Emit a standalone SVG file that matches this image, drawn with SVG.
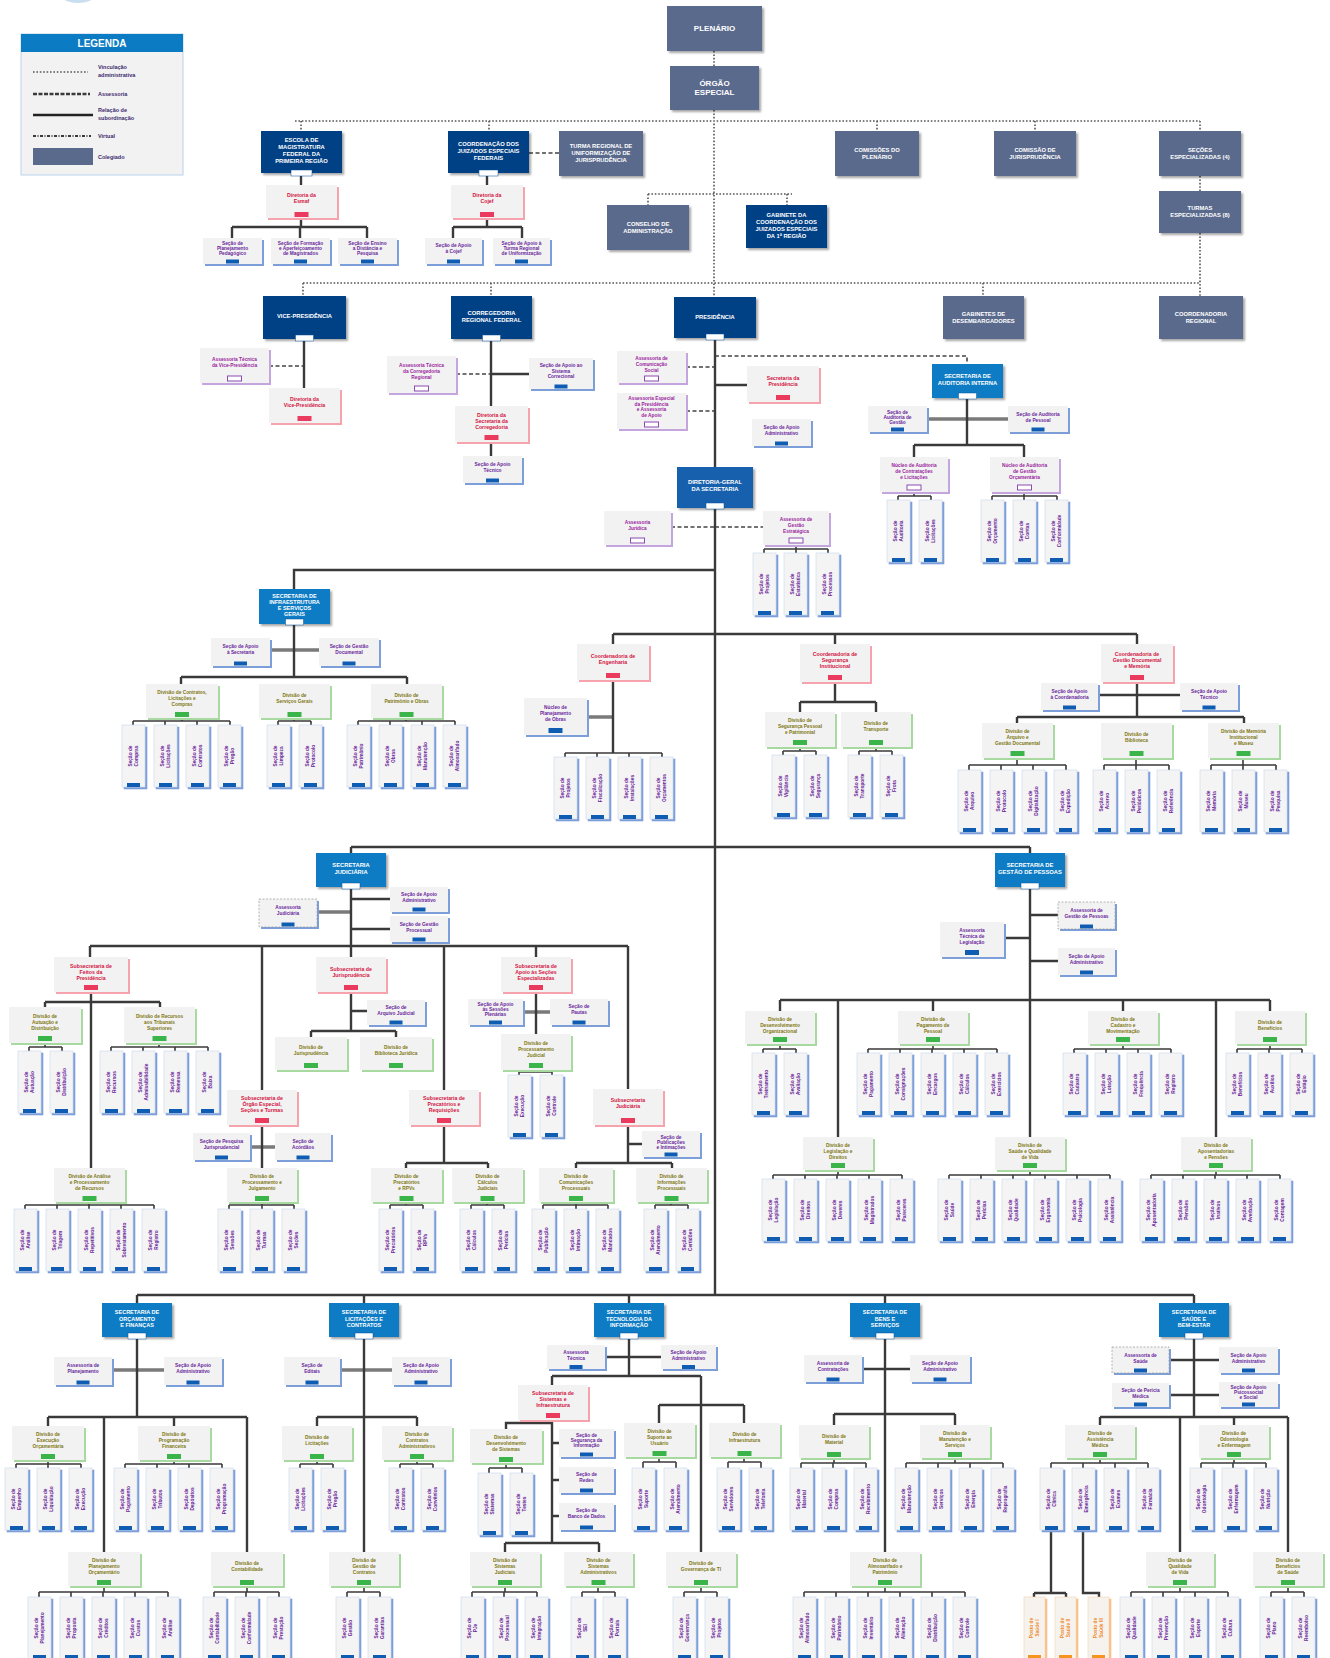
<svg xmlns="http://www.w3.org/2000/svg" xmlns:xlink="http://www.w3.org/1999/xlink" width="1330" height="1658" viewBox="0 0 1330 1658">
<defs>
<style>
text{font-family:"Liberation Sans",Arial,sans-serif;text-anchor:middle;font-weight:bold}
.tw{fill:#fff;font-size:5.8px}
.tL{fill:#fff;font-size:8px}
.tR{fill:#d3123f;font-size:5.2px}
.tP{fill:#9a1d9e;font-size:4.8px}
.tB{fill:#6a269c;font-size:4.8px}
.tG{fill:#807712;font-size:4.8px}
.tv{fill:#6a1f9a;font-size:4.8px}
.tO{fill:#ef8a2b;font-size:4.8px}
.lg{fill:#3d2a6e;font-size:5.5px;text-anchor:start}
.sl{fill:#5a6a8d;filter:url(#sh)}
.nv{fill:#043f85;filter:url(#sh)}
.lb{fill:#0b7cc4;filter:url(#sh)}
.md{fill:#1561ae;filter:url(#sh)}
.cR{fill:#f2f2f2;filter:url(#fR)}
.cP{fill:#f2f2f2;filter:url(#fP)}
.cB{fill:#f2f2f2;filter:url(#fB)}
.cG{fill:#f2f2f2;filter:url(#fG)}
.vc{fill:#f4f4f4;stroke:#c8d6ee;stroke-width:.6;filter:url(#fB)}
.vo{fill:#f6f2ee;stroke:#f6d2b0;stroke-width:.6;filter:url(#fO)}
.gR{fill:#ea3b5f}.gP{fill:#fff;stroke:#8b4bb5;stroke-width:1}.gB{fill:#0e5db3}.gG{fill:#3bb54a}.gO{fill:#f7941d}
.wt{fill:#fff;stroke:#0a4f9a;stroke-width:.5}
.dsh{fill:none;stroke:#9a9a9a;stroke-width:.7;stroke-dasharray:2 1.5}
.ln{fill:none;stroke:#3a3a3a;stroke-width:2.4}
.lt{fill:none;stroke:#3a3a3a;stroke-width:1.6}
.gy{fill:none;stroke:#7a7a7a;stroke-width:3.5}
.dt{fill:none;stroke:#555;stroke-width:1.6;stroke-dasharray:1.6 1.8}
.ds{fill:none;stroke:#444;stroke-width:1.6;stroke-dasharray:4 2.5}
</style>
<filter id="sh" x="-10%" y="-10%" width="130%" height="140%"><feDropShadow dx="2" dy="2" stdDeviation="1.2" flood-color="#000" flood-opacity=".35"/></filter>
<filter id="fR" x="-10%" y="-10%" width="130%" height="140%"><feDropShadow dx="2" dy="2" stdDeviation=".4" flood-color="#f7a3ad"/></filter>
<filter id="fP" x="-10%" y="-10%" width="130%" height="140%"><feDropShadow dx="2" dy="2" stdDeviation=".4" flood-color="#c4a5de"/></filter>
<filter id="fB" x="-15%" y="-10%" width="140%" height="130%"><feDropShadow dx="2" dy="2" stdDeviation=".4" flood-color="#7b9fd9"/></filter>
<filter id="fG" x="-10%" y="-10%" width="130%" height="140%"><feDropShadow dx="2" dy="2" stdDeviation=".4" flood-color="#a7d9a1"/></filter>
<filter id="fO" x="-15%" y="-10%" width="140%" height="130%"><feDropShadow dx="2" dy="2" stdDeviation=".4" flood-color="#f9c088"/></filter>
<g id="V"><rect class="vc" width="23" height="62"/><rect class="gB" x="5" y="58" width="13" height="4"/></g>
<g id="VO"><rect class="vo" width="21" height="62"/><rect class="gO" x="4" y="58" width="13" height="4"/></g>
</defs>
<rect width="1330" height="1658" fill="#fff"/>
<ellipse id="logo" cx="78" cy="-4" rx="16" ry="7" fill="#c9def0"/>
<g id="legend">
<rect x="21" y="34" width="162" height="141" fill="#f2f2f2" stroke="#b9d3ec"/>
<rect x="21" y="34" width="162" height="18" fill="#0b7cc4"/>
<text x="102" y="47" fill="#fff" style="font-size:10px">LEGENDA</text>
<path class="dt" d="M33 72H88"/>
<path d="M33 94H90" fill="none" stroke="#3a3a3a" stroke-width="2.5" stroke-dasharray="4 1.5"/>
<path d="M33 115H93" fill="none" stroke="#222" stroke-width="2.5"/>
<path d="M33 136H91" fill="none" stroke="#3a3a3a" stroke-width="2" stroke-dasharray="3 1.5 1 1.5"/>
<rect x="33" y="148" width="60" height="17" fill="#5a6a8d"/>
<text class="lg" x="98" y="69">Vinculação</text><text class="lg" x="98" y="77">administrativa</text>
<text class="lg" x="98" y="96">Assessoria</text>
<text class="lg" x="98" y="112">Relação de</text><text class="lg" x="98" y="120">subordinação</text>
<text class="lg" x="98" y="138">Virtual</text>
<text class="lg" x="98" y="159">Colegiado</text>
</g>
<g id="connectors">
<path class="dt" d="M714 51V66M714 110V297M295 121H1200M301 121V131M489 121V131M877 121V131M1035 121V131M1200 121V131M1200 176V191M1200 233V296M648 194H792M648 194V205M787 194V205M303 283H1200M303 283V296M491 283V296M983 283V296"/>
<path class="ds" d="M529 153H559M269 366H304M456 374H491M686 367H715M686 411H715M715 356H967V364M671 527H715M715 527H763"/>
<path class="gy" d="M270 650H319M587 717H613M927 419H1008M317 912H351M250 1147H275M523 1012H550M112 1370H164M340 1370H392"/>
<path class="ln" d="M301 176V185M301 218V227M232 227H367M232 227V238M300 227V238M367 227V238M487 176V185M487 218V227M453 227H522M453 227V238M522 227V238M304 339V388M491 339V406M491 374H529M491 442V456M715 338V1295M715 385H747M967 398V445M914 445H1024M914 445V457M1024 445V457M715 570H294V589M294 624V677M181 677H407M181 677V684M407 677V684M613 634H1137M613 634V644M835 634V644M1137 634V644M613 680V753M835 682V702M800 702H876M800 702V712M876 702V712M1137 682V717M1098 695H1180M1017 717H1244M1017 717V723M1244 717V723M351 847H1030M351 847V853M1030 847V853M351 887V946M351 899H390M351 929H390M90 946H628M90 946V957M262 946V1090M351 946V957M444 946V1090M536 946V957M628 946V1089M91 992V1168M45 1002H160M45 1002V1007M160 1002V1007M262 1125V1168M351 992V1031M311 1031H396M311 1031V1037M396 1031V1037M351 1011H367M444 1125V1163M406 1163H488M406 1163V1168M488 1163V1168M536 992V1034M628 1125V1163M628 1144H642M576 1163H672M576 1163V1168M672 1163V1168M1030 887V1000M1030 915H1058M1004 938H1030M1030 961H1058M780 1000H1270M780 1000V1011M838 1000V1137M933 1000V1011M1030 1000V1137M1123 1000V1011M1216 1000V1137M1270 1000V1011M137 1295H1194M137 1295V1303M364 1295V1303M629 1295V1303M885 1295V1303M1194 1295V1303M137 1337V1417M48 1417H247M48 1417V1426M104 1417V1552M174 1417V1426M247 1417V1552M364 1337V1552M317 1417H417M317 1417V1426M417 1417V1426M629 1337V1376M605 1357H661M552 1376H701M552 1376V1385M701 1376V1552M659 1405H744M659 1405V1423M744 1405V1423M552 1420V1543M552 1423H506V1429M552 1443H559M552 1480H559M552 1516H559M505 1543H599M505 1543V1552M599 1543V1552M885 1337V1552M862 1369H910M834 1414H955M834 1414V1425M955 1414V1425M1194 1337V1417M1169 1360H1219M1169 1395H1219M1100 1417H1288M1100 1417V1425M1180 1417V1552M1234 1417V1425M1288 1417V1552M1051 1530V1593M1034 1593H1066M1034 1593V1597M1066 1593V1597M1083 1530V1593H1099V1597"/>
<path class="lt" d="M914 492V496M898 496H931M898 496V500M931 496V500M1024 492V496M992 496H1057M992 496V500M1024 496V500M1057 496V500M796 545V549M764 549H828M764 549V553M796 549V553M828 549V553M182 718V721M133 721H230M133 721V725M165 721V725M197 721V725M230 721V725M294 718V721M278 721H311M278 721V725M311 721V725M406 718V721M358 721H455M358 721V725M390 721V725M422 721V725M455 721V725M565 753H662M565 753V757M597 753V757M629 753V757M662 753V757M800 747V751M783 751H816M783 751V755M816 751V755M876 747V751M859 751H892M859 751V755M892 751V755M1017 758V765M969 765H1066M969 765V770M1001 765V770M1033 765V770M1066 765V770M1136 758V765M1104 765H1169M1104 765V770M1136 765V770M1169 765V770M1243 758V765M1211 765H1276M1211 765V770M1243 765V770M1276 765V770M45 1043V1047M29 1047H62M29 1047V1051M62 1047V1051M159 1043V1047M111 1047H208M111 1047V1051M143 1047V1051M175 1047V1051M208 1047V1051M89 1202V1205M25 1205H154M25 1205V1209M57 1205V1209M89 1205V1209M121 1205V1209M154 1205V1209M262 1202V1205M229 1205H294M229 1205V1209M262 1205V1209M294 1205V1209M406 1202V1205M390 1205H423M390 1205V1209M423 1205V1209M487 1202V1205M471 1205H504M471 1205V1209M504 1205V1209M536 1070V1072M519 1072H552M519 1072V1075M552 1072V1075M576 1202V1205M543 1205H608M543 1205V1209M576 1205V1209M608 1205V1209M671 1202V1205M655 1205H688M655 1205V1209M688 1205V1209M780 1044V1049M763 1049H796M763 1049V1053M796 1049V1053M933 1044V1049M868 1049H997M868 1049V1053M900 1049V1053M932 1049V1053M964 1049V1053M997 1049V1053M1123 1044V1049M1074 1049H1171M1074 1049V1053M1106 1049V1053M1138 1049V1053M1171 1049V1053M1270 1044V1049M1237 1049H1302M1237 1049V1053M1269 1049V1053M1302 1049V1053M838 1170V1175M773 1175H902M773 1175V1179M805 1175V1179M837 1175V1179M869 1175V1179M902 1175V1179M1030 1170V1175M949 1175H1110M949 1175V1179M981 1175V1179M1013 1175V1179M1045 1175V1179M1077 1175V1179M1110 1175V1179M1216 1170V1175M1151 1175H1280M1151 1175V1179M1183 1175V1179M1215 1175V1179M1247 1175V1179M1280 1175V1179M48 1460V1464M16 1464H81M16 1464V1468M48 1464V1468M81 1464V1468M174 1460V1464M125 1464H222M125 1464V1468M157 1464V1468M189 1464V1468M222 1464V1468M104 1586V1592M39 1592H168M39 1592V1597M71 1592V1597M103 1592V1597M135 1592V1597M168 1592V1597M247 1586V1592M214 1592H279M214 1592V1597M246 1592V1597M279 1592V1597M317 1460V1464M300 1464H333M300 1464V1468M333 1464V1468M417 1460V1464M400 1464H433M400 1464V1468M433 1464V1468M364 1586V1592M347 1592H380M347 1592V1597M380 1592V1597M506 1463V1468M489 1468H522M489 1468V1473M522 1468V1473M659 1457V1462M643 1462H676M643 1462V1468M676 1462V1468M744 1457V1462M728 1462H761M728 1462V1468M761 1462V1468M505 1586V1592M472 1592H537M472 1592V1597M504 1592V1597M537 1592V1597M598 1586V1592M582 1592H615M582 1592V1597M615 1592V1597M701 1586V1592M684 1592H717M684 1592V1597M717 1592V1597M834 1458V1463M801 1463H866M801 1463V1468M833 1463V1468M866 1463V1468M955 1458V1463M906 1463H1003M906 1463V1468M938 1463V1468M970 1463V1468M1003 1463V1468M885 1586V1592M804 1592H965M804 1592V1597M836 1592V1597M868 1592V1597M900 1592V1597M932 1592V1597M965 1592V1597M1100 1458V1463M1051 1463H1148M1051 1463V1468M1083 1463V1468M1115 1463V1468M1148 1463V1468M1234 1458V1463M1201 1463H1266M1201 1463V1468M1233 1463V1468M1266 1463V1468M1180 1586V1592M1131 1592H1228M1131 1592V1597M1163 1592V1597M1195 1592V1597M1228 1592V1597M1288 1586V1592M1271 1592H1304M1271 1592V1597M1304 1592V1597"/>
</g>
<g id="plenario"><rect class="sl" x="667" y="6" width="95" height="45"/><text class="tL" x="714.5" y="31">PLENÁRIO</text></g>
<g id="orgao-especial"><rect class="sl" x="670" y="66" width="89" height="44"/><text class="tL" x="714.5" y="86">ÓRGÃO<tspan x="714.5" dy="9">ESPECIAL</tspan></text></g>
<g id="esmaf"><rect class="nv" x="261" y="131" width="81" height="42"/><text class="tw" x="301.5" y="142">ESCOLA DE<tspan x="301.5" dy="7">MAGISTRATURA</tspan><tspan x="301.5" dy="7">FEDERAL DA</tspan><tspan x="301.5" dy="7">PRIMEIRA REGIÃO</tspan></text><rect class="wt" x="291" y="170" width="21" height="6"/></g>
<g id="cojef"><rect class="nv" x="448" y="131" width="81" height="42"/><text class="tw" x="488.5" y="145.5">COORDENAÇÃO DOS<tspan x="488.5" dy="7">JUIZADOS ESPECIAIS</tspan><tspan x="488.5" dy="7">FEDERAIS</tspan></text><rect class="wt" x="479" y="170" width="19" height="6"/></g>
<g id="tru"><rect class="sl" x="559" y="131" width="84" height="45"/><text class="tw" x="601" y="148">TURMA REGIONAL DE<tspan x="601" dy="7">UNIFORMIZAÇÃO DE</tspan><tspan x="601" dy="7">JURISPRUDÊNCIA</tspan></text></g>
<g id="comissoes"><rect class="sl" x="835" y="131" width="84" height="45"/><text class="tw" x="877" y="152">COMISSÕES DO<tspan x="877" dy="7">PLENÁRIO</tspan></text></g>
<g id="comissao-jur"><rect class="sl" x="994" y="131" width="82" height="45"/><text class="tw" x="1035" y="152">COMISSÃO DE<tspan x="1035" dy="7">JURISPRUDÊNCIA</tspan></text></g>
<g id="secoes"><rect class="sl" x="1159" y="131" width="82" height="45"/><text class="tw" x="1200" y="152">SEÇÕES<tspan x="1200" dy="7">ESPECIALIZADAS (4)</tspan></text></g>
<g id="turmas"><rect class="sl" x="1159" y="191" width="82" height="42"/><text class="tw" x="1200" y="210">TURMAS<tspan x="1200" dy="7">ESPECIALIZADAS (8)</tspan></text></g>
<g id="conselho"><rect class="sl" x="607" y="205" width="82" height="45"/><text class="tw" x="648" y="226">CONSELHO DE<tspan x="648" dy="7">ADMINISTRAÇÃO</tspan></text></g>
<g id="gabinete-coord"><rect class="nv" x="746" y="205" width="81" height="43"/><text class="tw" x="786.5" y="217">GABINETE DA<tspan x="786.5" dy="7">COORDENAÇÃO DOS</tspan><tspan x="786.5" dy="7">JUIZADOS ESPECIAIS</tspan><tspan x="786.5" dy="7">DA 1ª REGIÃO</tspan></text></g>
<g id="vice"><rect class="nv" x="263" y="296" width="83" height="43"/><text class="tw" x="304.5" y="318">VICE-PRESIDÊNCIA</text><rect class="wt" x="295.5" y="335" width="18" height="6"/></g>
<g id="corregedoria"><rect class="nv" x="451" y="296" width="81" height="43"/><text class="tw" x="491.5" y="314.5">CORREGEDORIA<tspan x="491.5" dy="7">REGIONAL FEDERAL</tspan></text><rect class="wt" x="482.5" y="335" width="18" height="6"/></g>
<g id="presidencia"><rect class="nv" x="674" y="297" width="82" height="41"/><text class="tw" x="715" y="319">PRESIDÊNCIA</text><rect class="wt" x="706" y="334" width="18" height="6"/></g>
<g id="gabinetes"><rect class="sl" x="943" y="296" width="81" height="43"/><text class="tw" x="983.5" y="316">GABINETES DE<tspan x="983.5" dy="7">DESEMBARGADORES</tspan></text></g>
<g id="coord-regional"><rect class="sl" x="1159" y="296" width="84" height="43"/><text class="tw" x="1201" y="316">COORDENADORIA<tspan x="1201" dy="7">REGIONAL</tspan></text></g>
<g id="cA0"><rect class="cR" x="266" y="185" width="71" height="33"/><text class="tR" x="301.5" y="197">Diretoria da<tspan x="301.5" dy="6">Esmaf</tspan></text><rect class="gR" x="294.5" y="212" width="14" height="5"/></g>
<g id="cA1"><rect class="cB" x="203" y="238" width="59" height="26"/><text class="tB" x="232.5" y="244.5">Seção de<tspan x="232.5" dy="5">Planejamento</tspan><tspan x="232.5" dy="5">Pedagógico</tspan></text><rect class="gB" x="226" y="259.5" width="13" height="4"/></g>
<g id="cA2"><rect class="cB" x="271" y="238" width="59" height="26"/><text class="tB" x="300.5" y="244.5">Seção de Formação<tspan x="300.5" dy="5">e Aperfeiçoamento</tspan><tspan x="300.5" dy="5">de Magistrados</tspan></text><rect class="gB" x="294" y="259.5" width="13" height="4"/></g>
<g id="cA3"><rect class="cB" x="338" y="238" width="59" height="26"/><text class="tB" x="367.5" y="244.5">Seção de Ensino<tspan x="367.5" dy="5">a Distância e</tspan><tspan x="367.5" dy="5">Pesquisa</tspan></text><rect class="gB" x="361" y="259.5" width="13" height="4"/></g>
<g id="cB0"><rect class="cR" x="451" y="185" width="72" height="33"/><text class="tR" x="487" y="197">Diretoria da<tspan x="487" dy="6">Cojef</tspan></text><rect class="gR" x="480" y="212" width="14" height="5"/></g>
<g id="cB1"><rect class="cB" x="425" y="238" width="57" height="26"/><text class="tB" x="453.5" y="247">Seção de Apoio<tspan x="453.5" dy="6">à Cojef</tspan></text><rect class="gB" x="447" y="259.5" width="13" height="4"/></g>
<g id="cB2"><rect class="cB" x="493" y="238" width="57" height="26"/><text class="tB" x="521.5" y="244.5">Seção de Apoio à<tspan x="521.5" dy="5">Turma Regional</tspan><tspan x="521.5" dy="5">de Uniformização</tspan></text><rect class="gB" x="515" y="259.5" width="13" height="4"/></g>
<g id="cJ1"><rect class="cP" x="200" y="348" width="69" height="35"/><text class="tP" x="234.5" y="361">Assessoria Técnica<tspan x="234.5" dy="6">da Vice-Presidência</tspan></text><rect class="gP" x="227.5" y="376" width="14" height="5"/></g>
<g id="cJ2"><rect class="cR" x="269" y="388" width="71" height="35"/><text class="tR" x="304.5" y="401">Diretoria da<tspan x="304.5" dy="6">Vice-Presidência</tspan></text><rect class="gR" x="297.5" y="416" width="14" height="5"/></g>
<g id="cK1"><rect class="cP" x="387" y="356" width="69" height="37"/><text class="tP" x="421.5" y="367">Assessoria Técnica<tspan x="421.5" dy="6">da Corregedoria</tspan><tspan x="421.5" dy="6">Regional</tspan></text><rect class="gP" x="414.5" y="386" width="14" height="5"/></g>
<g id="cK2"><rect class="cB" x="529" y="358" width="64" height="31"/><text class="tB" x="561" y="367">Seção de Apoio ao<tspan x="561" dy="5.5">Sistema</tspan><tspan x="561" dy="5.5">Correcional</tspan></text><rect class="gB" x="554.5" y="384.5" width="13" height="4"/></g>
<g id="cK3"><rect class="cR" x="455" y="406" width="73" height="36"/><text class="tR" x="491.5" y="417">Diretoria da<tspan x="491.5" dy="6">Secretaria da</tspan><tspan x="491.5" dy="6">Corregedoria</tspan></text><rect class="gR" x="484.5" y="435" width="14" height="5"/></g>
<g id="cK4"><rect class="cB" x="463" y="456" width="59" height="27"/><text class="tB" x="492.5" y="466">Seção de Apoio<tspan x="492.5" dy="6">Técnico</tspan></text><rect class="gB" x="486" y="478.5" width="13" height="4"/></g>
<g id="cL1"><rect class="cP" x="617" y="351" width="69" height="32"/><text class="tP" x="651.5" y="360">Assessoria de<tspan x="651.5" dy="6">Comunicação</tspan><tspan x="651.5" dy="6">Social</tspan></text><rect class="gP" x="644.5" y="376" width="14" height="5"/></g>
<g id="cL2"><rect class="cP" x="617" y="393" width="69" height="36"/><text class="tP" x="651.5" y="400">Assessoria Especial<tspan x="651.5" dy="5.5">da Presidência</tspan><tspan x="651.5" dy="5.5">e Assessoria</tspan><tspan x="651.5" dy="5.5">de Apoio</tspan></text><rect class="gP" x="644.5" y="422" width="14" height="5"/></g>
<g id="cL3"><rect class="cR" x="747" y="366" width="72" height="36"/><text class="tR" x="783" y="380">Secretaria da<tspan x="783" dy="6">Presidência</tspan></text><rect class="gR" x="776" y="395" width="14" height="5"/></g>
<g id="cL4"><rect class="cB" x="752" y="419" width="59" height="27"/><text class="tB" x="781.5" y="429">Seção de Apoio<tspan x="781.5" dy="6">Administrativo</tspan></text><rect class="gB" x="775" y="441.5" width="13" height="4"/></g>
<g id="auditoria"><rect class="lb" x="932" y="364" width="71" height="34"/><text class="tw" x="967.5" y="378">SECRETARIA DE<tspan x="967.5" dy="7">AUDITORIA INTERNA</tspan></text><rect class="wt" x="958.5" y="393" width="18" height="6"/></g>
<g id="cO1"><rect class="cB" x="868" y="406" width="59" height="26"/><text class="tB" x="897.5" y="413.5">Seção de<tspan x="897.5" dy="5">Auditoria de</tspan><tspan x="897.5" dy="5">Gestão</tspan></text><rect class="gB" x="891" y="427.5" width="13" height="4"/></g>
<g id="cO2"><rect class="cB" x="1008" y="406" width="60" height="26"/><text class="tB" x="1038" y="416">Seção de Auditoria<tspan x="1038" dy="6">de Pessoal</tspan></text><rect class="gB" x="1031.5" y="427.5" width="13" height="4"/></g>
<g id="cO3"><rect class="cP" x="880" y="457" width="68" height="35"/><text class="tP" x="914" y="467">Núcleo de Auditoria<tspan x="914" dy="6">de Contratações</tspan><tspan x="914" dy="6">e Licitações</tspan></text><rect class="gP" x="907" y="485" width="14" height="5"/></g>
<g id="cO4"><rect class="cP" x="990" y="457" width="69" height="35"/><text class="tP" x="1024.5" y="467">Núcleo de Auditoria<tspan x="1024.5" dy="6">de Gestão</tspan><tspan x="1024.5" dy="6">Orçamentária</tspan></text><rect class="gP" x="1017.5" y="485" width="14" height="5"/></g>
<g id="diretoria-geral"><rect class="md" x="677" y="467" width="76" height="41"/><text class="tw" x="715" y="484">DIRETORIA-GERAL<tspan x="715" dy="7">DA SECRETARIA</tspan></text><rect class="wt" x="706" y="503" width="18" height="6"/></g>
<g id="cP1"><rect class="cP" x="604" y="511" width="67" height="34"/><text class="tP" x="637.5" y="524">Assessoria<tspan x="637.5" dy="6">Jurídica</tspan></text><rect class="gP" x="630.5" y="538" width="14" height="5"/></g>
<g id="cP2"><rect class="cP" x="763" y="511" width="66" height="34"/><text class="tP" x="796" y="521">Assessoria de<tspan x="796" dy="6">Gestão</tspan><tspan x="796" dy="6">Estratégica</tspan></text><rect class="gP" x="789" y="538" width="14" height="5"/></g>
<g id="infraestrutura"><rect class="lb" x="259" y="589" width="71" height="35"/><text class="tw" x="294.5" y="598" style="font-size:5.5px">SECRETARIA DE<tspan x="294.5" dy="6">INFRAESTRUTURA</tspan><tspan x="294.5" dy="6">E SERVIÇOS</tspan><tspan x="294.5" dy="6">GERAIS</tspan></text><rect class="wt" x="285.5" y="619" width="18" height="6"/></g>
<g id="cQ1"><rect class="cB" x="211" y="638" width="59" height="28"/><text class="tB" x="240.5" y="648">Seção de Apoio<tspan x="240.5" dy="6">à Secretaria</tspan></text><rect class="gB" x="234" y="661.5" width="13" height="4"/></g>
<g id="cQ2"><rect class="cB" x="319" y="638" width="60" height="28"/><text class="tB" x="349" y="648">Seção de Gestão<tspan x="349" dy="6">Documental</tspan></text><rect class="gB" x="342.5" y="661.5" width="13" height="4"/></g>
<g id="cG1"><rect class="cG" x="146" y="684" width="72" height="34"/><text class="tG" x="182" y="694">Divisão de Contratos,<tspan x="182" dy="6">Licitações e</tspan><tspan x="182" dy="6">Compras</tspan></text><rect class="gG" x="175" y="712" width="14" height="5"/></g>
<g id="cG2"><rect class="cG" x="259" y="684" width="71" height="34"/><text class="tG" x="294.5" y="697">Divisão de<tspan x="294.5" dy="6">Serviços Gerais</tspan></text><rect class="gG" x="287.5" y="712" width="14" height="5"/></g>
<g id="cG3"><rect class="cG" x="371" y="684" width="71" height="34"/><text class="tG" x="406.5" y="697">Divisão de<tspan x="406.5" dy="6">Patrimônio e Obras</tspan></text><rect class="gG" x="399.5" y="712" width="14" height="5"/></g>
<g id="cR1"><rect class="cR" x="577" y="644" width="72" height="36"/><text class="tR" x="613" y="658">Coordenadoria de<tspan x="613" dy="6">Engenharia</tspan></text><rect class="gR" x="606" y="673" width="14" height="5"/></g>
<g id="cR1b"><rect class="cB" x="524" y="698" width="63" height="37"/><text class="tB" x="555.5" y="709">Núcleo de<tspan x="555.5" dy="6">Planejamento</tspan><tspan x="555.5" dy="6">de Obras</tspan></text><rect class="gB" x="548.5" y="728" width="14" height="5"/></g>
<g id="cR2"><rect class="cR" x="800" y="644" width="70" height="38"/><text class="tR" x="835" y="656">Coordenadoria de<tspan x="835" dy="6">Segurança</tspan><tspan x="835" dy="6">Institucional</tspan></text><rect class="gR" x="828" y="675" width="14" height="5"/></g>
<g id="cR2a"><rect class="cG" x="765" y="712" width="70" height="35"/><text class="tG" x="800" y="722">Divisão de<tspan x="800" dy="6">Segurança Pessoal</tspan><tspan x="800" dy="6">e Patrimonial</tspan></text><rect class="gG" x="793" y="740" width="14" height="5"/></g>
<g id="cR2b"><rect class="cG" x="841" y="712" width="70" height="35"/><text class="tG" x="876" y="725">Divisão de<tspan x="876" dy="6">Transporte</tspan></text><rect class="gG" x="869" y="740" width="14" height="5"/></g>
<g id="cR3"><rect class="cR" x="1101" y="644" width="72" height="38"/><text class="tR" x="1137" y="656">Coordenadoria de<tspan x="1137" dy="6">Gestão Documental</tspan><tspan x="1137" dy="6">e Memória</tspan></text><rect class="gR" x="1130" y="675" width="14" height="5"/></g>
<g id="cR3l"><rect class="cB" x="1041" y="683" width="57" height="27"/><text class="tB" x="1069.5" y="693">Seção de Apoio<tspan x="1069.5" dy="6">à Coordenadoria</tspan></text><rect class="gB" x="1063" y="705.5" width="13" height="4"/></g>
<g id="cR3r"><rect class="cB" x="1180" y="683" width="58" height="27"/><text class="tB" x="1209" y="693">Seção de Apoio<tspan x="1209" dy="6">Técnico</tspan></text><rect class="gB" x="1202.5" y="705.5" width="13" height="4"/></g>
<g id="cR3a"><rect class="cG" x="982" y="723" width="71" height="35"/><text class="tG" x="1017.5" y="733">Divisão de<tspan x="1017.5" dy="6">Arquivo e</tspan><tspan x="1017.5" dy="6">Gestão Documental</tspan></text><rect class="gG" x="1010.5" y="751" width="14" height="5"/></g>
<g id="cR3b"><rect class="cG" x="1101" y="723" width="71" height="35"/><text class="tG" x="1136.5" y="736">Divisão de<tspan x="1136.5" dy="6">Biblioteca</tspan></text><rect class="gG" x="1129.5" y="751" width="14" height="5"/></g>
<g id="cR3c"><rect class="cG" x="1208" y="723" width="71" height="35"/><text class="tG" x="1243.5" y="733">Divisão de Memória<tspan x="1243.5" dy="6">Institucional</tspan><tspan x="1243.5" dy="6">e Museu</tspan></text><rect class="gG" x="1236.5" y="751" width="14" height="5"/></g>
<g id="judiciaria"><rect class="lb" x="316" y="853" width="70" height="34"/><text class="tw" x="351" y="867">SECRETARIA<tspan x="351" dy="7">JUDICIÁRIA</tspan></text><rect class="wt" x="342" y="883" width="18" height="6"/></g>
<g id="cS1l"><rect class="cB" x="259" y="899" width="58" height="28"/><rect class="dsh" x="259" y="899" width="58" height="28"/><text class="tB" x="288" y="909">Assessoria<tspan x="288" dy="6">Judiciária</tspan></text><rect class="gB" x="281.5" y="922.5" width="13" height="4"/></g>
<g id="cS1r1"><rect class="cB" x="390" y="887" width="58" height="25"/><text class="tB" x="419" y="896">Seção de Apoio<tspan x="419" dy="6">Administrativo</tspan></text><rect class="gB" x="412.5" y="907.5" width="13" height="4"/></g>
<g id="cS1r2"><rect class="cB" x="390" y="916" width="58" height="26"/><text class="tB" x="419" y="926">Seção de Gestão<tspan x="419" dy="6">Processual</tspan></text><rect class="gB" x="412.5" y="937.5" width="13" height="4"/></g>
<g id="cRA"><rect class="cR" x="54" y="957" width="74" height="35"/><text class="tR" x="91" y="968">Subsecretaria de<tspan x="91" dy="6">Feitos da</tspan><tspan x="91" dy="6">Presidência</tspan></text><rect class="gR" x="84" y="985" width="14" height="5"/></g>
<g id="cGA1"><rect class="cG" x="9" y="1007" width="72" height="36"/><text class="tG" x="45" y="1018">Divisão de<tspan x="45" dy="6">Autuação e</tspan><tspan x="45" dy="6">Distribuição</tspan></text><rect class="gG" x="38" y="1036" width="14" height="5"/></g>
<g id="cGA2"><rect class="cG" x="124" y="1007" width="71" height="36"/><text class="tG" x="159.5" y="1018">Divisão de Recursos<tspan x="159.5" dy="6">aos Tribunais</tspan><tspan x="159.5" dy="6">Superiores</tspan></text><rect class="gG" x="152.5" y="1036" width="14" height="5"/></g>
<g id="cGA3"><rect class="cG" x="54" y="1168" width="71" height="34"/><text class="tG" x="89.5" y="1178">Divisão de Análise<tspan x="89.5" dy="6">e Processamento</tspan><tspan x="89.5" dy="6">de Recursos</tspan></text><rect class="gG" x="82.5" y="1196" width="14" height="5"/></g>
<g id="cRB"><rect class="cR" x="227" y="1090" width="70" height="35"/><text class="tR" x="262" y="1100">Subsecretaria de<tspan x="262" dy="6">Órgão Especial,</tspan><tspan x="262" dy="6">Seções e Turmas</tspan></text><rect class="gR" x="255" y="1118" width="14" height="5"/></g>
<g id="cRBl"><rect class="cB" x="193" y="1133" width="57" height="27"/><text class="tB" x="221.5" y="1143">Seção de Pesquisa<tspan x="221.5" dy="6">Jurisprudencial</tspan></text><rect class="gB" x="215" y="1155.5" width="13" height="4"/></g>
<g id="cRBr"><rect class="cB" x="275" y="1133" width="56" height="27"/><text class="tB" x="303" y="1143">Seção de<tspan x="303" dy="6">Acórdãos</tspan></text><rect class="gB" x="296.5" y="1155.5" width="13" height="4"/></g>
<g id="cGB"><rect class="cG" x="227" y="1168" width="70" height="34"/><text class="tG" x="262" y="1178">Divisão de<tspan x="262" dy="6">Processamento e</tspan><tspan x="262" dy="6">Julgamento</tspan></text><rect class="gG" x="255" y="1196" width="14" height="5"/></g>
<g id="cRC"><rect class="cR" x="316" y="957" width="70" height="35"/><text class="tR" x="351" y="971">Subsecretaria de<tspan x="351" dy="6">Jurisprudência</tspan></text><rect class="gR" x="344" y="985" width="14" height="5"/></g>
<g id="cRCs"><rect class="cB" x="367" y="1000" width="58" height="25"/><text class="tB" x="396" y="1009">Seção de<tspan x="396" dy="6">Arquivo Judicial</tspan></text><rect class="gB" x="389.5" y="1020.5" width="13" height="4"/></g>
<g id="cRCa"><rect class="cG" x="275" y="1037" width="72" height="33"/><text class="tG" x="311" y="1049">Divisão de<tspan x="311" dy="6">Jurisprudência</tspan></text><rect class="gG" x="304" y="1063" width="14" height="5"/></g>
<g id="cRCb"><rect class="cG" x="360" y="1037" width="72" height="33"/><text class="tG" x="396" y="1049">Divisão de<tspan x="396" dy="6">Biblioteca Jurídica</tspan></text><rect class="gG" x="389" y="1063" width="14" height="5"/></g>
<g id="cRD"><rect class="cR" x="409" y="1090" width="70" height="35"/><text class="tR" x="444" y="1100">Subsecretaria de<tspan x="444" dy="6">Precatórios e</tspan><tspan x="444" dy="6">Requisições</tspan></text><rect class="gR" x="437" y="1118" width="14" height="5"/></g>
<g id="cRDa"><rect class="cG" x="371" y="1168" width="71" height="34"/><text class="tG" x="406.5" y="1178">Divisão de<tspan x="406.5" dy="6">Precatórios</tspan><tspan x="406.5" dy="6">e RPVs</tspan></text><rect class="gG" x="399.5" y="1196" width="14" height="5"/></g>
<g id="cRDb"><rect class="cG" x="452" y="1168" width="71" height="34"/><text class="tG" x="487.5" y="1178">Divisão de<tspan x="487.5" dy="6">Cálculos</tspan><tspan x="487.5" dy="6">Judiciais</tspan></text><rect class="gG" x="480.5" y="1196" width="14" height="5"/></g>
<g id="cRE"><rect class="cR" x="501" y="957" width="70" height="35"/><text class="tR" x="536" y="968">Subsecretaria de<tspan x="536" dy="6">Apoio às Seções</tspan><tspan x="536" dy="6">Especializadas</tspan></text><rect class="gR" x="529" y="985" width="14" height="5"/></g>
<g id="cREl"><rect class="cB" x="468" y="999" width="55" height="26"/><text class="tB" x="495.5" y="1006">Seção de Apoio<tspan x="495.5" dy="5">às Sessões</tspan><tspan x="495.5" dy="5">Plenárias</tspan></text><rect class="gB" x="489" y="1020.5" width="13" height="4"/></g>
<g id="cREr"><rect class="cB" x="550" y="999" width="58" height="26"/><text class="tB" x="579" y="1008">Seção de<tspan x="579" dy="6">Pautas</tspan></text><rect class="gB" x="572.5" y="1020.5" width="13" height="4"/></g>
<g id="cREg"><rect class="cG" x="501" y="1034" width="70" height="36"/><text class="tG" x="536" y="1045">Divisão de<tspan x="536" dy="6">Processamento</tspan><tspan x="536" dy="6">Judicial</tspan></text><rect class="gG" x="529" y="1063" width="14" height="5"/></g>
<g id="cRF"><rect class="cR" x="593" y="1089" width="70" height="36"/><text class="tR" x="628" y="1102">Subsecretaria<tspan x="628" dy="6">Judiciária</tspan></text><rect class="gR" x="621" y="1118" width="14" height="5"/></g>
<g id="cRFs"><rect class="cB" x="642" y="1131" width="58" height="26"/><text class="tB" x="671" y="1138.5">Seção de<tspan x="671" dy="5">Publicações</tspan><tspan x="671" dy="5">e Intimações</tspan></text><rect class="gB" x="664.5" y="1152.5" width="13" height="4"/></g>
<g id="cRFa"><rect class="cG" x="539" y="1168" width="74" height="34"/><text class="tG" x="576" y="1178">Divisão de<tspan x="576" dy="6">Comunicações</tspan><tspan x="576" dy="6">Processuais</tspan></text><rect class="gG" x="569" y="1196" width="14" height="5"/></g>
<g id="cRFb"><rect class="cG" x="636" y="1168" width="71" height="34"/><text class="tG" x="671.5" y="1178">Divisão de<tspan x="671.5" dy="6">Informações</tspan><tspan x="671.5" dy="6">Processuais</tspan></text><rect class="gG" x="664.5" y="1196" width="14" height="5"/></g>
<g id="pessoas"><rect class="lb" x="995" y="853" width="70" height="34"/><text class="tw" x="1030" y="867">SECRETARIA DE<tspan x="1030" dy="7">GESTÃO DE PESSOAS</tspan></text><rect class="wt" x="1021" y="883" width="18" height="6"/></g>
<g id="cS2a"><rect class="cB" x="1058" y="902" width="57" height="27"/><rect class="dsh" x="1058" y="902" width="57" height="27"/><text class="tB" x="1086.5" y="912">Assessoria de<tspan x="1086.5" dy="6">Gestão de Pessoas</tspan></text><rect class="gB" x="1080" y="924.5" width="13" height="4"/></g>
<g id="cS2b"><rect class="cB" x="940" y="922" width="64" height="35"/><text class="tB" x="972" y="932">Assessoria<tspan x="972" dy="6">Técnica de</tspan><tspan x="972" dy="6">Legislação</tspan></text><rect class="gB" x="965" y="950" width="14" height="5"/></g>
<g id="cS2c"><rect class="cB" x="1058" y="948" width="57" height="27"/><text class="tB" x="1086.5" y="958">Seção de Apoio<tspan x="1086.5" dy="6">Administrativo</tspan></text><rect class="gB" x="1080" y="970.5" width="13" height="4"/></g>
<g id="cGR1"><rect class="cG" x="745" y="1011" width="70" height="33"/><text class="tG" x="780" y="1021">Divisão de<tspan x="780" dy="6">Desenvolvimento</tspan><tspan x="780" dy="6">Organizacional</tspan></text><rect class="gG" x="773" y="1037" width="14" height="5"/></g>
<g id="cGR2"><rect class="cG" x="898" y="1011" width="70" height="33"/><text class="tG" x="933" y="1021">Divisão de<tspan x="933" dy="6">Pagamento de</tspan><tspan x="933" dy="6">Pessoal</tspan></text><rect class="gG" x="926" y="1037" width="14" height="5"/></g>
<g id="cGR3"><rect class="cG" x="1088" y="1011" width="70" height="33"/><text class="tG" x="1123" y="1021">Divisão de<tspan x="1123" dy="6">Cadastro e</tspan><tspan x="1123" dy="6">Movimentação</tspan></text><rect class="gG" x="1116" y="1037" width="14" height="5"/></g>
<g id="cGR7"><rect class="cG" x="1235" y="1011" width="70" height="33"/><text class="tG" x="1270" y="1024">Divisão de<tspan x="1270" dy="6">Benefícios</tspan></text><rect class="gG" x="1263" y="1037" width="14" height="5"/></g>
<g id="cGR4"><rect class="cG" x="803" y="1137" width="70" height="33"/><text class="tG" x="838" y="1147">Divisão de<tspan x="838" dy="6">Legislação e</tspan><tspan x="838" dy="6">Direitos</tspan></text><rect class="gG" x="831" y="1163" width="14" height="5"/></g>
<g id="cGR5"><rect class="cG" x="995" y="1137" width="70" height="33"/><text class="tG" x="1030" y="1147">Divisão de<tspan x="1030" dy="6">Saúde e Qualidade</tspan><tspan x="1030" dy="6">de Vida</tspan></text><rect class="gG" x="1023" y="1163" width="14" height="5"/></g>
<g id="cGR6"><rect class="cG" x="1181" y="1137" width="70" height="33"/><text class="tG" x="1216" y="1147">Divisão de<tspan x="1216" dy="6">Aposentadorias</tspan><tspan x="1216" dy="6">e Pensões</tspan></text><rect class="gG" x="1209" y="1163" width="14" height="5"/></g>
<g id="orcamento"><rect class="lb" x="102" y="1303" width="70" height="34"/><text class="tw" x="137" y="1314" style="font-size:5.5px">SECRETARIA DE<tspan x="137" dy="6.5">ORÇAMENTO</tspan><tspan x="137" dy="6.5">E FINANÇAS</tspan></text><rect class="wt" x="128" y="1333" width="18" height="6"/></g>
<g id="cT1l"><rect class="cB" x="54" y="1357" width="58" height="28"/><text class="tB" x="83" y="1367">Assessoria de<tspan x="83" dy="6">Planejamento</tspan></text><rect class="gB" x="76.5" y="1380.5" width="13" height="4"/></g>
<g id="cT1r"><rect class="cB" x="164" y="1357" width="58" height="28"/><text class="tB" x="193" y="1367">Seção de Apoio<tspan x="193" dy="6">Administrativo</tspan></text><rect class="gB" x="186.5" y="1380.5" width="13" height="4"/></g>
<g id="cT1a"><rect class="cG" x="12" y="1426" width="72" height="34"/><text class="tG" x="48" y="1436">Divisão de<tspan x="48" dy="6">Execução</tspan><tspan x="48" dy="6">Orçamentária</tspan></text><rect class="gG" x="41" y="1454" width="14" height="5"/></g>
<g id="cT1b"><rect class="cG" x="138" y="1426" width="72" height="34"/><text class="tG" x="174" y="1436">Divisão de<tspan x="174" dy="6">Programação</tspan><tspan x="174" dy="6">Financeira</tspan></text><rect class="gG" x="167" y="1454" width="14" height="5"/></g>
<g id="cT1c"><rect class="cG" x="68" y="1552" width="72" height="34"/><text class="tG" x="104" y="1562">Divisão de<tspan x="104" dy="6">Planejamento</tspan><tspan x="104" dy="6">Orçamentário</tspan></text><rect class="gG" x="97" y="1580" width="14" height="5"/></g>
<g id="cT1d"><rect class="cG" x="211" y="1552" width="72" height="34"/><text class="tG" x="247" y="1565">Divisão de<tspan x="247" dy="6">Contabilidade</tspan></text><rect class="gG" x="240" y="1580" width="14" height="5"/></g>
<g id="licitacoes"><rect class="lb" x="329" y="1303" width="70" height="34"/><text class="tw" x="364" y="1314" style="font-size:5.5px">SECRETARIA DE<tspan x="364" dy="6.5">LICITAÇÕES E</tspan><tspan x="364" dy="6.5">CONTRATOS</tspan></text><rect class="wt" x="355" y="1333" width="18" height="6"/></g>
<g id="cT2l"><rect class="cB" x="284" y="1357" width="56" height="28"/><text class="tB" x="312" y="1367">Seção de<tspan x="312" dy="6">Editais</tspan></text><rect class="gB" x="305.5" y="1380.5" width="13" height="4"/></g>
<g id="cT2r"><rect class="cB" x="392" y="1357" width="58" height="28"/><text class="tB" x="421" y="1367">Seção de Apoio<tspan x="421" dy="6">Administrativo</tspan></text><rect class="gB" x="414.5" y="1380.5" width="13" height="4"/></g>
<g id="cT2a"><rect class="cG" x="282" y="1426" width="70" height="34"/><text class="tG" x="317" y="1439">Divisão de<tspan x="317" dy="6">Licitações</tspan></text><rect class="gG" x="310" y="1454" width="14" height="5"/></g>
<g id="cT2b"><rect class="cG" x="382" y="1426" width="70" height="34"/><text class="tG" x="417" y="1436">Divisão de<tspan x="417" dy="6">Contratos</tspan><tspan x="417" dy="6">Administrativos</tspan></text><rect class="gG" x="410" y="1454" width="14" height="5"/></g>
<g id="cT2c"><rect class="cG" x="329" y="1552" width="70" height="34"/><text class="tG" x="364" y="1562">Divisão de<tspan x="364" dy="6">Gestão de</tspan><tspan x="364" dy="6">Contratos</tspan></text><rect class="gG" x="357" y="1580" width="14" height="5"/></g>
<g id="tecnologia"><rect class="lb" x="594" y="1303" width="70" height="34"/><text class="tw" x="629" y="1314" style="font-size:5.5px">SECRETARIA DE<tspan x="629" dy="6.5">TECNOLOGIA DA</tspan><tspan x="629" dy="6.5">INFORMAÇÃO</tspan></text><rect class="wt" x="620" y="1333" width="18" height="6"/></g>
<g id="cT3l"><rect class="cB" x="547" y="1345" width="58" height="24"/><text class="tB" x="576" y="1354">Assessoria<tspan x="576" dy="6">Técnica</tspan></text><rect class="gB" x="569.5" y="1365" width="13" height="4"/></g>
<g id="cT3r"><rect class="cB" x="661" y="1345" width="55" height="24"/><text class="tB" x="688.5" y="1354">Seção de Apoio<tspan x="688.5" dy="6">Administrativo</tspan></text><rect class="gB" x="682" y="1365" width="13" height="4"/></g>
<g id="cT3x"><rect class="cR" x="518" y="1385" width="70" height="35"/><text class="tR" x="553" y="1395">Subsecretaria de<tspan x="553" dy="6">Sistemas e</tspan><tspan x="553" dy="6">Infraestrutura</tspan></text><rect class="gR" x="546" y="1413" width="14" height="5"/></g>
<g id="cT3i"><rect class="cG" x="470" y="1429" width="72" height="34"/><text class="tG" x="506" y="1439">Divisão de<tspan x="506" dy="6">Desenvolvimento</tspan><tspan x="506" dy="6">de Sistemas</tspan></text><rect class="gG" x="499" y="1457" width="14" height="5"/></g>
<g id="cT3s1"><rect class="cB" x="559" y="1429" width="55" height="28"/><text class="tB" x="586.5" y="1437">Seção de<tspan x="586.5" dy="5">Segurança da</tspan><tspan x="586.5" dy="5">Informação</tspan></text><rect class="gB" x="580" y="1452.5" width="13" height="4"/></g>
<g id="cT3s2"><rect class="cB" x="559" y="1467" width="55" height="26"/><text class="tB" x="586.5" y="1476">Seção de<tspan x="586.5" dy="6">Redes</tspan></text><rect class="gB" x="580" y="1488.5" width="13" height="4"/></g>
<g id="cT3s3"><rect class="cB" x="559" y="1503" width="55" height="27"/><text class="tB" x="586.5" y="1512">Seção de<tspan x="586.5" dy="6">Banco de Dados</tspan></text><rect class="gB" x="580" y="1525.5" width="13" height="4"/></g>
<g id="cT3d"><rect class="cG" x="624" y="1423" width="71" height="34"/><text class="tG" x="659.5" y="1433">Divisão de<tspan x="659.5" dy="6">Suporte ao</tspan><tspan x="659.5" dy="6">Usuário</tspan></text><rect class="gG" x="652.5" y="1451" width="14" height="5"/></g>
<g id="cT3e"><rect class="cG" x="709" y="1423" width="71" height="34"/><text class="tG" x="744.5" y="1436">Divisão de<tspan x="744.5" dy="6">Infraestrutura</tspan></text><rect class="gG" x="737.5" y="1451" width="14" height="5"/></g>
<g id="cT3g"><rect class="cG" x="470" y="1552" width="70" height="34"/><text class="tG" x="505" y="1562">Divisão de<tspan x="505" dy="6">Sistemas</tspan><tspan x="505" dy="6">Judiciais</tspan></text><rect class="gG" x="498" y="1580" width="14" height="5"/></g>
<g id="cT3h"><rect class="cG" x="564" y="1552" width="69" height="34"/><text class="tG" x="598.5" y="1562">Divisão de<tspan x="598.5" dy="6">Sistemas</tspan><tspan x="598.5" dy="6">Administrativos</tspan></text><rect class="gG" x="591.5" y="1580" width="14" height="5"/></g>
<g id="cT3f"><rect class="cG" x="666" y="1552" width="70" height="34"/><text class="tG" x="701" y="1565">Divisão de<tspan x="701" dy="6">Governança de TI</tspan></text><rect class="gG" x="694" y="1580" width="14" height="5"/></g>
<g id="bens"><rect class="lb" x="850" y="1303" width="70" height="34"/><text class="tw" x="885" y="1314" style="font-size:5.5px">SECRETARIA DE<tspan x="885" dy="6.5">BENS E</tspan><tspan x="885" dy="6.5">SERVIÇOS</tspan></text><rect class="wt" x="876" y="1333" width="18" height="6"/></g>
<g id="cT4l"><rect class="cB" x="804" y="1355" width="58" height="27"/><text class="tB" x="833" y="1365">Assessoria de<tspan x="833" dy="6">Contratações</tspan></text><rect class="gB" x="826.5" y="1377.5" width="13" height="4"/></g>
<g id="cT4r"><rect class="cB" x="910" y="1355" width="60" height="27"/><text class="tB" x="940" y="1365">Seção de Apoio<tspan x="940" dy="6">Administrativo</tspan></text><rect class="gB" x="933.5" y="1377.5" width="13" height="4"/></g>
<g id="cT4a"><rect class="cG" x="799" y="1425" width="70" height="33"/><text class="tG" x="834" y="1438">Divisão de<tspan x="834" dy="6">Material</tspan></text><rect class="gG" x="827" y="1452" width="14" height="5"/></g>
<g id="cT4b"><rect class="cG" x="920" y="1425" width="70" height="33"/><text class="tG" x="955" y="1435">Divisão de<tspan x="955" dy="6">Manutenção e</tspan><tspan x="955" dy="6">Serviços</tspan></text><rect class="gG" x="948" y="1452" width="14" height="5"/></g>
<g id="cT4c"><rect class="cG" x="850" y="1552" width="70" height="34"/><text class="tG" x="885" y="1562">Divisão de<tspan x="885" dy="6">Almoxarifado e</tspan><tspan x="885" dy="6">Patrimônio</tspan></text><rect class="gG" x="878" y="1580" width="14" height="5"/></g>
<g id="saude"><rect class="lb" x="1159" y="1303" width="70" height="34"/><text class="tw" x="1194" y="1314" style="font-size:5.5px">SECRETARIA DE<tspan x="1194" dy="6.5">SAÚDE E</tspan><tspan x="1194" dy="6.5">BEM-ESTAR</tspan></text><rect class="wt" x="1185" y="1333" width="18" height="6"/></g>
<g id="cT5a"><rect class="cB" x="1112" y="1347" width="57" height="26"/><rect class="dsh" x="1112" y="1347" width="57" height="26"/><text class="tB" x="1140.5" y="1357">Assessoria de<tspan x="1140.5" dy="6">Saúde</tspan></text><rect class="gB" x="1134" y="1368.5" width="13" height="4"/></g>
<g id="cT5b"><rect class="cB" x="1219" y="1347" width="59" height="26"/><text class="tB" x="1248.5" y="1357">Seção de Apoio<tspan x="1248.5" dy="6">Administrativo</tspan></text><rect class="gB" x="1242" y="1368.5" width="13" height="4"/></g>
<g id="cT5c"><rect class="cB" x="1112" y="1383" width="57" height="24"/><text class="tB" x="1140.5" y="1392">Seção de Perícia<tspan x="1140.5" dy="6">Médica</tspan></text><rect class="gB" x="1134" y="1402.5" width="13" height="4"/></g>
<g id="cT5d"><rect class="cB" x="1219" y="1382" width="59" height="25"/><text class="tB" x="1248.5" y="1389">Seção de Apoio<tspan x="1248.5" dy="5">Psicossocial</tspan><tspan x="1248.5" dy="5">e Social</tspan></text><rect class="gB" x="1242" y="1402.5" width="13" height="4"/></g>
<g id="cT5e"><rect class="cG" x="1065" y="1425" width="70" height="33"/><text class="tG" x="1100" y="1435">Divisão de<tspan x="1100" dy="6">Assistência</tspan><tspan x="1100" dy="6">Médica</tspan></text><rect class="gG" x="1093" y="1452" width="14" height="5"/></g>
<g id="cT5f"><rect class="cG" x="1199" y="1425" width="70" height="33"/><text class="tG" x="1234" y="1435">Divisão de<tspan x="1234" dy="6">Odontologia</tspan><tspan x="1234" dy="6">e Enfermagem</tspan></text><rect class="gG" x="1227" y="1452" width="14" height="5"/></g>
<g id="cT5g"><rect class="cG" x="1146" y="1552" width="68" height="34"/><text class="tG" x="1180" y="1562">Divisão de<tspan x="1180" dy="6">Qualidade</tspan><tspan x="1180" dy="6">de Vida</tspan></text><rect class="gG" x="1173" y="1580" width="14" height="5"/></g>
<g id="cT5h"><rect class="cG" x="1253" y="1552" width="70" height="34"/><text class="tG" x="1288" y="1562">Divisão de<tspan x="1288" dy="6">Benefícios</tspan><tspan x="1288" dy="6">de Saúde</tspan></text><rect class="gG" x="1281" y="1580" width="14" height="5"/></g>
<g id="v1" transform="translate(887 500)"><use href="#V"/><text class="tv" transform="rotate(-90)" x="-31" y="10">Seção de<tspan x="-31" dy="5.5">Auditoria</tspan></text></g>
<g id="v2" transform="translate(919 500)"><use href="#V"/><text class="tv" transform="rotate(-90)" x="-31" y="10">Seção de<tspan x="-31" dy="5.5">Licitações</tspan></text></g>
<g id="v3" transform="translate(981 500)"><use href="#V"/><text class="tv" transform="rotate(-90)" x="-31" y="10">Seção de<tspan x="-31" dy="5.5">Orçamento</tspan></text></g>
<g id="v4" transform="translate(1013 500)"><use href="#V"/><text class="tv" transform="rotate(-90)" x="-31" y="10">Seção de<tspan x="-31" dy="5.5">Contas</tspan></text></g>
<g id="v5" transform="translate(1045 500)"><use href="#V"/><text class="tv" transform="rotate(-90)" x="-31" y="10">Seção de<tspan x="-31" dy="5.5">Conformidade</tspan></text></g>
<g id="v6" transform="translate(753 553)"><use href="#V"/><text class="tv" transform="rotate(-90)" x="-31" y="10">Seção de<tspan x="-31" dy="5.5">Projetos</tspan></text></g>
<g id="v7" transform="translate(784 553)"><use href="#V"/><text class="tv" transform="rotate(-90)" x="-31" y="10">Seção de<tspan x="-31" dy="5.5">Estatística</tspan></text></g>
<g id="v8" transform="translate(816 553)"><use href="#V"/><text class="tv" transform="rotate(-90)" x="-31" y="10">Seção de<tspan x="-31" dy="5.5">Processos</tspan></text></g>
<g id="v9" transform="translate(122 725)"><use href="#V"/><text class="tv" transform="rotate(-90)" x="-31" y="10">Seção de<tspan x="-31" dy="5.5">Compras</tspan></text></g>
<g id="v10" transform="translate(154 725)"><use href="#V"/><text class="tv" transform="rotate(-90)" x="-31" y="10">Seção de<tspan x="-31" dy="5.5">Licitações</tspan></text></g>
<g id="v11" transform="translate(186 725)"><use href="#V"/><text class="tv" transform="rotate(-90)" x="-31" y="10">Seção de<tspan x="-31" dy="5.5">Contratos</tspan></text></g>
<g id="v12" transform="translate(218 725)"><use href="#V"/><text class="tv" transform="rotate(-90)" x="-31" y="10">Seção de<tspan x="-31" dy="5.5">Pregão</tspan></text></g>
<g id="v13" transform="translate(267 725)"><use href="#V"/><text class="tv" transform="rotate(-90)" x="-31" y="10">Seção de<tspan x="-31" dy="5.5">Limpeza</tspan></text></g>
<g id="v14" transform="translate(299 725)"><use href="#V"/><text class="tv" transform="rotate(-90)" x="-31" y="10">Seção de<tspan x="-31" dy="5.5">Protocolo</tspan></text></g>
<g id="v15" transform="translate(347 725)"><use href="#V"/><text class="tv" transform="rotate(-90)" x="-31" y="10">Seção de<tspan x="-31" dy="5.5">Patrimônio</tspan></text></g>
<g id="v16" transform="translate(379 725)"><use href="#V"/><text class="tv" transform="rotate(-90)" x="-31" y="10">Seção de<tspan x="-31" dy="5.5">Obras</tspan></text></g>
<g id="v17" transform="translate(411 725)"><use href="#V"/><text class="tv" transform="rotate(-90)" x="-31" y="10">Seção de<tspan x="-31" dy="5.5">Manutenção</tspan></text></g>
<g id="v18" transform="translate(443 725)"><use href="#V"/><text class="tv" transform="rotate(-90)" x="-31" y="10">Seção de<tspan x="-31" dy="5.5">Almoxarifado</tspan></text></g>
<g id="v19" transform="translate(554 757)"><use href="#V"/><text class="tv" transform="rotate(-90)" x="-31" y="10">Seção de<tspan x="-31" dy="5.5">Projetos</tspan></text></g>
<g id="v20" transform="translate(586 757)"><use href="#V"/><text class="tv" transform="rotate(-90)" x="-31" y="10">Seção de<tspan x="-31" dy="5.5">Fiscalização</tspan></text></g>
<g id="v21" transform="translate(618 757)"><use href="#V"/><text class="tv" transform="rotate(-90)" x="-31" y="10">Seção de<tspan x="-31" dy="5.5">Instalações</tspan></text></g>
<g id="v22" transform="translate(650 757)"><use href="#V"/><text class="tv" transform="rotate(-90)" x="-31" y="10">Seção de<tspan x="-31" dy="5.5">Orçamentos</tspan></text></g>
<g id="v23" transform="translate(772 755)"><use href="#V"/><text class="tv" transform="rotate(-90)" x="-31" y="10">Seção de<tspan x="-31" dy="5.5">Vigilância</tspan></text></g>
<g id="v24" transform="translate(804 755)"><use href="#V"/><text class="tv" transform="rotate(-90)" x="-31" y="10">Seção de<tspan x="-31" dy="5.5">Segurança</tspan></text></g>
<g id="v25" transform="translate(848 755)"><use href="#V"/><text class="tv" transform="rotate(-90)" x="-31" y="10">Seção de<tspan x="-31" dy="5.5">Transporte</tspan></text></g>
<g id="v26" transform="translate(880 755)"><use href="#V"/><text class="tv" transform="rotate(-90)" x="-31" y="10">Seção de<tspan x="-31" dy="5.5">Frota</tspan></text></g>
<g id="v27" transform="translate(958 770)"><use href="#V"/><text class="tv" transform="rotate(-90)" x="-31" y="10">Seção de<tspan x="-31" dy="5.5">Arquivo</tspan></text></g>
<g id="v28" transform="translate(990 770)"><use href="#V"/><text class="tv" transform="rotate(-90)" x="-31" y="10">Seção de<tspan x="-31" dy="5.5">Protocolo</tspan></text></g>
<g id="v29" transform="translate(1022 770)"><use href="#V"/><text class="tv" transform="rotate(-90)" x="-31" y="10">Seção de<tspan x="-31" dy="5.5">Digitalização</tspan></text></g>
<g id="v30" transform="translate(1054 770)"><use href="#V"/><text class="tv" transform="rotate(-90)" x="-31" y="10">Seção de<tspan x="-31" dy="5.5">Expedição</tspan></text></g>
<g id="v31" transform="translate(1093 770)"><use href="#V"/><text class="tv" transform="rotate(-90)" x="-31" y="10">Seção de<tspan x="-31" dy="5.5">Acervo</tspan></text></g>
<g id="v32" transform="translate(1125 770)"><use href="#V"/><text class="tv" transform="rotate(-90)" x="-31" y="10">Seção de<tspan x="-31" dy="5.5">Periódicos</tspan></text></g>
<g id="v33" transform="translate(1157 770)"><use href="#V"/><text class="tv" transform="rotate(-90)" x="-31" y="10">Seção de<tspan x="-31" dy="5.5">Referência</tspan></text></g>
<g id="v34" transform="translate(1200 770)"><use href="#V"/><text class="tv" transform="rotate(-90)" x="-31" y="10">Seção de<tspan x="-31" dy="5.5">Memória</tspan></text></g>
<g id="v35" transform="translate(1232 770)"><use href="#V"/><text class="tv" transform="rotate(-90)" x="-31" y="10">Seção de<tspan x="-31" dy="5.5">Museu</tspan></text></g>
<g id="v36" transform="translate(1264 770)"><use href="#V"/><text class="tv" transform="rotate(-90)" x="-31" y="10">Seção de<tspan x="-31" dy="5.5">Pesquisa</tspan></text></g>
<g id="v37" transform="translate(18 1051)"><use href="#V"/><text class="tv" transform="rotate(-90)" x="-31" y="10">Seção de<tspan x="-31" dy="5.5">Autuação</tspan></text></g>
<g id="v38" transform="translate(50 1051)"><use href="#V"/><text class="tv" transform="rotate(-90)" x="-31" y="10">Seção de<tspan x="-31" dy="5.5">Distribuição</tspan></text></g>
<g id="v39" transform="translate(100 1051)"><use href="#V"/><text class="tv" transform="rotate(-90)" x="-31" y="10">Seção de<tspan x="-31" dy="5.5">Recursos</tspan></text></g>
<g id="v40" transform="translate(132 1051)"><use href="#V"/><text class="tv" transform="rotate(-90)" x="-31" y="10">Seção de<tspan x="-31" dy="5.5">Admissibilidade</tspan></text></g>
<g id="v41" transform="translate(164 1051)"><use href="#V"/><text class="tv" transform="rotate(-90)" x="-31" y="10">Seção de<tspan x="-31" dy="5.5">Remessa</tspan></text></g>
<g id="v42" transform="translate(196 1051)"><use href="#V"/><text class="tv" transform="rotate(-90)" x="-31" y="10">Seção de<tspan x="-31" dy="5.5">Baixa</tspan></text></g>
<g id="v43" transform="translate(14 1209)"><use href="#V"/><text class="tv" transform="rotate(-90)" x="-31" y="10">Seção de<tspan x="-31" dy="5.5">Análise</tspan></text></g>
<g id="v44" transform="translate(46 1209)"><use href="#V"/><text class="tv" transform="rotate(-90)" x="-31" y="10">Seção de<tspan x="-31" dy="5.5">Triagem</tspan></text></g>
<g id="v45" transform="translate(78 1209)"><use href="#V"/><text class="tv" transform="rotate(-90)" x="-31" y="10">Seção de<tspan x="-31" dy="5.5">Repetitivos</tspan></text></g>
<g id="v46" transform="translate(110 1209)"><use href="#V"/><text class="tv" transform="rotate(-90)" x="-31" y="10">Seção de<tspan x="-31" dy="5.5">Sobrestamento</tspan></text></g>
<g id="v47" transform="translate(142 1209)"><use href="#V"/><text class="tv" transform="rotate(-90)" x="-31" y="10">Seção de<tspan x="-31" dy="5.5">Registro</tspan></text></g>
<g id="v48" transform="translate(218 1209)"><use href="#V"/><text class="tv" transform="rotate(-90)" x="-31" y="10">Seção de<tspan x="-31" dy="5.5">Sessões</tspan></text></g>
<g id="v49" transform="translate(250 1209)"><use href="#V"/><text class="tv" transform="rotate(-90)" x="-31" y="10">Seção de<tspan x="-31" dy="5.5">Turmas</tspan></text></g>
<g id="v50" transform="translate(282 1209)"><use href="#V"/><text class="tv" transform="rotate(-90)" x="-31" y="10">Seção de<tspan x="-31" dy="5.5">Seções</tspan></text></g>
<g id="v51" transform="translate(379 1209)"><use href="#V"/><text class="tv" transform="rotate(-90)" x="-31" y="10">Seção de<tspan x="-31" dy="5.5">Precatórios</tspan></text></g>
<g id="v52" transform="translate(411 1209)"><use href="#V"/><text class="tv" transform="rotate(-90)" x="-31" y="10">Seção de<tspan x="-31" dy="5.5">RPVs</tspan></text></g>
<g id="v53" transform="translate(460 1209)"><use href="#V"/><text class="tv" transform="rotate(-90)" x="-31" y="10">Seção de<tspan x="-31" dy="5.5">Cálculos</tspan></text></g>
<g id="v54" transform="translate(492 1209)"><use href="#V"/><text class="tv" transform="rotate(-90)" x="-31" y="10">Seção de<tspan x="-31" dy="5.5">Perícias</tspan></text></g>
<g id="v55" transform="translate(508 1075)"><use href="#V"/><text class="tv" transform="rotate(-90)" x="-31" y="10">Seção de<tspan x="-31" dy="5.5">Execução</tspan></text></g>
<g id="v56" transform="translate(540 1075)"><use href="#V"/><text class="tv" transform="rotate(-90)" x="-31" y="10">Seção de<tspan x="-31" dy="5.5">Controle</tspan></text></g>
<g id="v57" transform="translate(532 1209)"><use href="#V"/><text class="tv" transform="rotate(-90)" x="-31" y="10">Seção de<tspan x="-31" dy="5.5">Publicação</tspan></text></g>
<g id="v58" transform="translate(564 1209)"><use href="#V"/><text class="tv" transform="rotate(-90)" x="-31" y="10">Seção de<tspan x="-31" dy="5.5">Intimação</tspan></text></g>
<g id="v59" transform="translate(596 1209)"><use href="#V"/><text class="tv" transform="rotate(-90)" x="-31" y="10">Seção de<tspan x="-31" dy="5.5">Mandados</tspan></text></g>
<g id="v60" transform="translate(644 1209)"><use href="#V"/><text class="tv" transform="rotate(-90)" x="-31" y="10">Seção de<tspan x="-31" dy="5.5">Atendimento</tspan></text></g>
<g id="v61" transform="translate(676 1209)"><use href="#V"/><text class="tv" transform="rotate(-90)" x="-31" y="10">Seção de<tspan x="-31" dy="5.5">Certidões</tspan></text></g>
<g id="v62" transform="translate(752 1053)"><use href="#V"/><text class="tv" transform="rotate(-90)" x="-31" y="10">Seção de<tspan x="-31" dy="5.5">Treinamento</tspan></text></g>
<g id="v63" transform="translate(784 1053)"><use href="#V"/><text class="tv" transform="rotate(-90)" x="-31" y="10">Seção de<tspan x="-31" dy="5.5">Avaliação</tspan></text></g>
<g id="v64" transform="translate(857 1053)"><use href="#V"/><text class="tv" transform="rotate(-90)" x="-31" y="10">Seção de<tspan x="-31" dy="5.5">Pagamento</tspan></text></g>
<g id="v65" transform="translate(889 1053)"><use href="#V"/><text class="tv" transform="rotate(-90)" x="-31" y="10">Seção de<tspan x="-31" dy="5.5">Consignações</tspan></text></g>
<g id="v66" transform="translate(921 1053)"><use href="#V"/><text class="tv" transform="rotate(-90)" x="-31" y="10">Seção de<tspan x="-31" dy="5.5">Encargos</tspan></text></g>
<g id="v67" transform="translate(953 1053)"><use href="#V"/><text class="tv" transform="rotate(-90)" x="-31" y="10">Seção de<tspan x="-31" dy="5.5">Cálculos</tspan></text></g>
<g id="v68" transform="translate(985 1053)"><use href="#V"/><text class="tv" transform="rotate(-90)" x="-31" y="10">Seção de<tspan x="-31" dy="5.5">Exercícios</tspan></text></g>
<g id="v69" transform="translate(1063 1053)"><use href="#V"/><text class="tv" transform="rotate(-90)" x="-31" y="10">Seção de<tspan x="-31" dy="5.5">Cadastro</tspan></text></g>
<g id="v70" transform="translate(1095 1053)"><use href="#V"/><text class="tv" transform="rotate(-90)" x="-31" y="10">Seção de<tspan x="-31" dy="5.5">Lotação</tspan></text></g>
<g id="v71" transform="translate(1127 1053)"><use href="#V"/><text class="tv" transform="rotate(-90)" x="-31" y="10">Seção de<tspan x="-31" dy="5.5">Frequência</tspan></text></g>
<g id="v72" transform="translate(1159 1053)"><use href="#V"/><text class="tv" transform="rotate(-90)" x="-31" y="10">Seção de<tspan x="-31" dy="5.5">Registro</tspan></text></g>
<g id="v73" transform="translate(1226 1053)"><use href="#V"/><text class="tv" transform="rotate(-90)" x="-31" y="10">Seção de<tspan x="-31" dy="5.5">Benefícios</tspan></text></g>
<g id="v74" transform="translate(1258 1053)"><use href="#V"/><text class="tv" transform="rotate(-90)" x="-31" y="10">Seção de<tspan x="-31" dy="5.5">Auxílios</tspan></text></g>
<g id="v75" transform="translate(1290 1053)"><use href="#V"/><text class="tv" transform="rotate(-90)" x="-31" y="10">Seção de<tspan x="-31" dy="5.5">Estágio</tspan></text></g>
<g id="v76" transform="translate(762 1179)"><use href="#V"/><text class="tv" transform="rotate(-90)" x="-31" y="10">Seção de<tspan x="-31" dy="5.5">Legislação</tspan></text></g>
<g id="v77" transform="translate(794 1179)"><use href="#V"/><text class="tv" transform="rotate(-90)" x="-31" y="10">Seção de<tspan x="-31" dy="5.5">Direitos</tspan></text></g>
<g id="v78" transform="translate(826 1179)"><use href="#V"/><text class="tv" transform="rotate(-90)" x="-31" y="10">Seção de<tspan x="-31" dy="5.5">Deveres</tspan></text></g>
<g id="v79" transform="translate(858 1179)"><use href="#V"/><text class="tv" transform="rotate(-90)" x="-31" y="10">Seção de<tspan x="-31" dy="5.5">Magistrados</tspan></text></g>
<g id="v80" transform="translate(890 1179)"><use href="#V"/><text class="tv" transform="rotate(-90)" x="-31" y="10">Seção de<tspan x="-31" dy="5.5">Pareceres</tspan></text></g>
<g id="v81" transform="translate(938 1179)"><use href="#V"/><text class="tv" transform="rotate(-90)" x="-31" y="10">Seção de<tspan x="-31" dy="5.5">Saúde</tspan></text></g>
<g id="v82" transform="translate(970 1179)"><use href="#V"/><text class="tv" transform="rotate(-90)" x="-31" y="10">Seção de<tspan x="-31" dy="5.5">Perícias</tspan></text></g>
<g id="v83" transform="translate(1002 1179)"><use href="#V"/><text class="tv" transform="rotate(-90)" x="-31" y="10">Seção de<tspan x="-31" dy="5.5">Qualidade</tspan></text></g>
<g id="v84" transform="translate(1034 1179)"><use href="#V"/><text class="tv" transform="rotate(-90)" x="-31" y="10">Seção de<tspan x="-31" dy="5.5">Ergonomia</tspan></text></g>
<g id="v85" transform="translate(1066 1179)"><use href="#V"/><text class="tv" transform="rotate(-90)" x="-31" y="10">Seção de<tspan x="-31" dy="5.5">Psicologia</tspan></text></g>
<g id="v86" transform="translate(1098 1179)"><use href="#V"/><text class="tv" transform="rotate(-90)" x="-31" y="10">Seção de<tspan x="-31" dy="5.5">Assistência</tspan></text></g>
<g id="v87" transform="translate(1140 1179)"><use href="#V"/><text class="tv" transform="rotate(-90)" x="-31" y="10">Seção de<tspan x="-31" dy="5.5">Aposentadoria</tspan></text></g>
<g id="v88" transform="translate(1172 1179)"><use href="#V"/><text class="tv" transform="rotate(-90)" x="-31" y="10">Seção de<tspan x="-31" dy="5.5">Pensões</tspan></text></g>
<g id="v89" transform="translate(1204 1179)"><use href="#V"/><text class="tv" transform="rotate(-90)" x="-31" y="10">Seção de<tspan x="-31" dy="5.5">Inativos</tspan></text></g>
<g id="v90" transform="translate(1236 1179)"><use href="#V"/><text class="tv" transform="rotate(-90)" x="-31" y="10">Seção de<tspan x="-31" dy="5.5">Averbação</tspan></text></g>
<g id="v91" transform="translate(1268 1179)"><use href="#V"/><text class="tv" transform="rotate(-90)" x="-31" y="10">Seção de<tspan x="-31" dy="5.5">Contagem</tspan></text></g>
<g id="v92" transform="translate(5 1468)"><use href="#V"/><text class="tv" transform="rotate(-90)" x="-31" y="10">Seção de<tspan x="-31" dy="5.5">Empenho</tspan></text></g>
<g id="v93" transform="translate(37 1468)"><use href="#V"/><text class="tv" transform="rotate(-90)" x="-31" y="10">Seção de<tspan x="-31" dy="5.5">Liquidação</tspan></text></g>
<g id="v94" transform="translate(69 1468)"><use href="#V"/><text class="tv" transform="rotate(-90)" x="-31" y="10">Seção de<tspan x="-31" dy="5.5">Execução</tspan></text></g>
<g id="v95" transform="translate(114 1468)"><use href="#V"/><text class="tv" transform="rotate(-90)" x="-31" y="10">Seção de<tspan x="-31" dy="5.5">Pagamento</tspan></text></g>
<g id="v96" transform="translate(146 1468)"><use href="#V"/><text class="tv" transform="rotate(-90)" x="-31" y="10">Seção de<tspan x="-31" dy="5.5">Tributos</tspan></text></g>
<g id="v97" transform="translate(178 1468)"><use href="#V"/><text class="tv" transform="rotate(-90)" x="-31" y="10">Seção de<tspan x="-31" dy="5.5">Depósitos</tspan></text></g>
<g id="v98" transform="translate(210 1468)"><use href="#V"/><text class="tv" transform="rotate(-90)" x="-31" y="10">Seção de<tspan x="-31" dy="5.5">Programação</tspan></text></g>
<g id="v99" transform="translate(28 1597)"><use href="#V"/><text class="tv" transform="rotate(-90)" x="-31" y="10">Seção de<tspan x="-31" dy="5.5">Planejamento</tspan></text></g>
<g id="v100" transform="translate(60 1597)"><use href="#V"/><text class="tv" transform="rotate(-90)" x="-31" y="10">Seção de<tspan x="-31" dy="5.5">Proposta</tspan></text></g>
<g id="v101" transform="translate(92 1597)"><use href="#V"/><text class="tv" transform="rotate(-90)" x="-31" y="10">Seção de<tspan x="-31" dy="5.5">Créditos</tspan></text></g>
<g id="v102" transform="translate(124 1597)"><use href="#V"/><text class="tv" transform="rotate(-90)" x="-31" y="10">Seção de<tspan x="-31" dy="5.5">Custos</tspan></text></g>
<g id="v103" transform="translate(156 1597)"><use href="#V"/><text class="tv" transform="rotate(-90)" x="-31" y="10">Seção de<tspan x="-31" dy="5.5">Análise</tspan></text></g>
<g id="v104" transform="translate(203 1597)"><use href="#V"/><text class="tv" transform="rotate(-90)" x="-31" y="10">Seção de<tspan x="-31" dy="5.5">Contabilidade</tspan></text></g>
<g id="v105" transform="translate(235 1597)"><use href="#V"/><text class="tv" transform="rotate(-90)" x="-31" y="10">Seção de<tspan x="-31" dy="5.5">Conformidade</tspan></text></g>
<g id="v106" transform="translate(267 1597)"><use href="#V"/><text class="tv" transform="rotate(-90)" x="-31" y="10">Seção de<tspan x="-31" dy="5.5">Prestação</tspan></text></g>
<g id="v107" transform="translate(289 1468)"><use href="#V"/><text class="tv" transform="rotate(-90)" x="-31" y="10">Seção de<tspan x="-31" dy="5.5">Licitações</tspan></text></g>
<g id="v108" transform="translate(321 1468)"><use href="#V"/><text class="tv" transform="rotate(-90)" x="-31" y="10">Seção de<tspan x="-31" dy="5.5">Pregão</tspan></text></g>
<g id="v109" transform="translate(389 1468)"><use href="#V"/><text class="tv" transform="rotate(-90)" x="-31" y="10">Seção de<tspan x="-31" dy="5.5">Contratos</tspan></text></g>
<g id="v110" transform="translate(421 1468)"><use href="#V"/><text class="tv" transform="rotate(-90)" x="-31" y="10">Seção de<tspan x="-31" dy="5.5">Convênios</tspan></text></g>
<g id="v111" transform="translate(336 1597)"><use href="#V"/><text class="tv" transform="rotate(-90)" x="-31" y="10">Seção de<tspan x="-31" dy="5.5">Gestão</tspan></text></g>
<g id="v112" transform="translate(368 1597)"><use href="#V"/><text class="tv" transform="rotate(-90)" x="-31" y="10">Seção de<tspan x="-31" dy="5.5">Garantias</tspan></text></g>
<g id="v113" transform="translate(478 1473)"><use href="#V"/><text class="tv" transform="rotate(-90)" x="-31" y="10">Seção de<tspan x="-31" dy="5.5">Sistemas</tspan></text></g>
<g id="v114" transform="translate(510 1473)"><use href="#V"/><text class="tv" transform="rotate(-90)" x="-31" y="10">Seção de<tspan x="-31" dy="5.5">Testes</tspan></text></g>
<g id="v115" transform="translate(632 1468)"><use href="#V"/><text class="tv" transform="rotate(-90)" x="-31" y="10">Seção de<tspan x="-31" dy="5.5">Suporte</tspan></text></g>
<g id="v116" transform="translate(664 1468)"><use href="#V"/><text class="tv" transform="rotate(-90)" x="-31" y="10">Seção de<tspan x="-31" dy="5.5">Atendimento</tspan></text></g>
<g id="v117" transform="translate(717 1468)"><use href="#V"/><text class="tv" transform="rotate(-90)" x="-31" y="10">Seção de<tspan x="-31" dy="5.5">Servidores</tspan></text></g>
<g id="v118" transform="translate(749 1468)"><use href="#V"/><text class="tv" transform="rotate(-90)" x="-31" y="10">Seção de<tspan x="-31" dy="5.5">Telefonia</tspan></text></g>
<g id="v119" transform="translate(461 1597)"><use href="#V"/><text class="tv" transform="rotate(-90)" x="-31" y="10">Seção de<tspan x="-31" dy="5.5">PJe</tspan></text></g>
<g id="v120" transform="translate(493 1597)"><use href="#V"/><text class="tv" transform="rotate(-90)" x="-31" y="10">Seção de<tspan x="-31" dy="5.5">Processual</tspan></text></g>
<g id="v121" transform="translate(525 1597)"><use href="#V"/><text class="tv" transform="rotate(-90)" x="-31" y="10">Seção de<tspan x="-31" dy="5.5">Integração</tspan></text></g>
<g id="v122" transform="translate(571 1597)"><use href="#V"/><text class="tv" transform="rotate(-90)" x="-31" y="10">Seção de<tspan x="-31" dy="5.5">SEI</tspan></text></g>
<g id="v123" transform="translate(603 1597)"><use href="#V"/><text class="tv" transform="rotate(-90)" x="-31" y="10">Seção de<tspan x="-31" dy="5.5">Portais</tspan></text></g>
<g id="v124" transform="translate(673 1597)"><use href="#V"/><text class="tv" transform="rotate(-90)" x="-31" y="10">Seção de<tspan x="-31" dy="5.5">Governança</tspan></text></g>
<g id="v125" transform="translate(705 1597)"><use href="#V"/><text class="tv" transform="rotate(-90)" x="-31" y="10">Seção de<tspan x="-31" dy="5.5">Projetos</tspan></text></g>
<g id="v126" transform="translate(790 1468)"><use href="#V"/><text class="tv" transform="rotate(-90)" x="-31" y="10">Seção de<tspan x="-31" dy="5.5">Material</tspan></text></g>
<g id="v127" transform="translate(822 1468)"><use href="#V"/><text class="tv" transform="rotate(-90)" x="-31" y="10">Seção de<tspan x="-31" dy="5.5">Compras</tspan></text></g>
<g id="v128" transform="translate(854 1468)"><use href="#V"/><text class="tv" transform="rotate(-90)" x="-31" y="10">Seção de<tspan x="-31" dy="5.5">Recebimento</tspan></text></g>
<g id="v129" transform="translate(895 1468)"><use href="#V"/><text class="tv" transform="rotate(-90)" x="-31" y="10">Seção de<tspan x="-31" dy="5.5">Manutenção</tspan></text></g>
<g id="v130" transform="translate(927 1468)"><use href="#V"/><text class="tv" transform="rotate(-90)" x="-31" y="10">Seção de<tspan x="-31" dy="5.5">Serviços</tspan></text></g>
<g id="v131" transform="translate(959 1468)"><use href="#V"/><text class="tv" transform="rotate(-90)" x="-31" y="10">Seção de<tspan x="-31" dy="5.5">Energia</tspan></text></g>
<g id="v132" transform="translate(991 1468)"><use href="#V"/><text class="tv" transform="rotate(-90)" x="-31" y="10">Seção de<tspan x="-31" dy="5.5">Reprografia</tspan></text></g>
<g id="v133" transform="translate(793 1597)"><use href="#V"/><text class="tv" transform="rotate(-90)" x="-31" y="10">Seção de<tspan x="-31" dy="5.5">Almoxarifado</tspan></text></g>
<g id="v134" transform="translate(825 1597)"><use href="#V"/><text class="tv" transform="rotate(-90)" x="-31" y="10">Seção de<tspan x="-31" dy="5.5">Patrimônio</tspan></text></g>
<g id="v135" transform="translate(857 1597)"><use href="#V"/><text class="tv" transform="rotate(-90)" x="-31" y="10">Seção de<tspan x="-31" dy="5.5">Inventário</tspan></text></g>
<g id="v136" transform="translate(889 1597)"><use href="#V"/><text class="tv" transform="rotate(-90)" x="-31" y="10">Seção de<tspan x="-31" dy="5.5">Alienação</tspan></text></g>
<g id="v137" transform="translate(921 1597)"><use href="#V"/><text class="tv" transform="rotate(-90)" x="-31" y="10">Seção de<tspan x="-31" dy="5.5">Distribuição</tspan></text></g>
<g id="v138" transform="translate(953 1597)"><use href="#V"/><text class="tv" transform="rotate(-90)" x="-31" y="10">Seção de<tspan x="-31" dy="5.5">Controle</tspan></text></g>
<g id="v139" transform="translate(1040 1468)"><use href="#V"/><text class="tv" transform="rotate(-90)" x="-31" y="10">Seção de<tspan x="-31" dy="5.5">Clínica</tspan></text></g>
<g id="v140" transform="translate(1072 1468)"><use href="#V"/><text class="tv" transform="rotate(-90)" x="-31" y="10">Seção de<tspan x="-31" dy="5.5">Emergência</tspan></text></g>
<g id="v141" transform="translate(1104 1468)"><use href="#V"/><text class="tv" transform="rotate(-90)" x="-31" y="10">Seção de<tspan x="-31" dy="5.5">Exames</tspan></text></g>
<g id="v142" transform="translate(1136 1468)"><use href="#V"/><text class="tv" transform="rotate(-90)" x="-31" y="10">Seção de<tspan x="-31" dy="5.5">Farmácia</tspan></text></g>
<g id="v143" transform="translate(1190 1468)"><use href="#V"/><text class="tv" transform="rotate(-90)" x="-31" y="10">Seção de<tspan x="-31" dy="5.5">Odontologia</tspan></text></g>
<g id="v144" transform="translate(1222 1468)"><use href="#V"/><text class="tv" transform="rotate(-90)" x="-31" y="10">Seção de<tspan x="-31" dy="5.5">Enfermagem</tspan></text></g>
<g id="v145" transform="translate(1254 1468)"><use href="#V"/><text class="tv" transform="rotate(-90)" x="-31" y="10">Seção de<tspan x="-31" dy="5.5">Nutrição</tspan></text></g>
<g id="v146" transform="translate(1120 1597)"><use href="#V"/><text class="tv" transform="rotate(-90)" x="-31" y="10">Seção de<tspan x="-31" dy="5.5">Qualidade</tspan></text></g>
<g id="v147" transform="translate(1152 1597)"><use href="#V"/><text class="tv" transform="rotate(-90)" x="-31" y="10">Seção de<tspan x="-31" dy="5.5">Prevenção</tspan></text></g>
<g id="v148" transform="translate(1184 1597)"><use href="#V"/><text class="tv" transform="rotate(-90)" x="-31" y="10">Seção de<tspan x="-31" dy="5.5">Esporte</tspan></text></g>
<g id="v149" transform="translate(1216 1597)"><use href="#V"/><text class="tv" transform="rotate(-90)" x="-31" y="10">Seção de<tspan x="-31" dy="5.5">Cultura</tspan></text></g>
<g id="v150" transform="translate(1260 1597)"><use href="#V"/><text class="tv" transform="rotate(-90)" x="-31" y="10">Seção de<tspan x="-31" dy="5.5">Plano</tspan></text></g>
<g id="v151" transform="translate(1292 1597)"><use href="#V"/><text class="tv" transform="rotate(-90)" x="-31" y="10">Seção de<tspan x="-31" dy="5.5">Reembolso</tspan></text></g>
<g id="o1" transform="translate(1024 1597)"><use href="#VO"/><text class="tO" transform="rotate(-90)" x="-31" y="9">Posto de<tspan x="-31" dy="5.5">Saúde I</tspan></text></g>
<g id="o2" transform="translate(1055 1597)"><use href="#VO"/><text class="tO" transform="rotate(-90)" x="-31" y="9">Posto de<tspan x="-31" dy="5.5">Saúde II</tspan></text></g>
<g id="o3" transform="translate(1088 1597)"><use href="#VO"/><text class="tO" transform="rotate(-90)" x="-31" y="9">Posto de<tspan x="-31" dy="5.5">Saúde III</tspan></text></g>
</svg>
